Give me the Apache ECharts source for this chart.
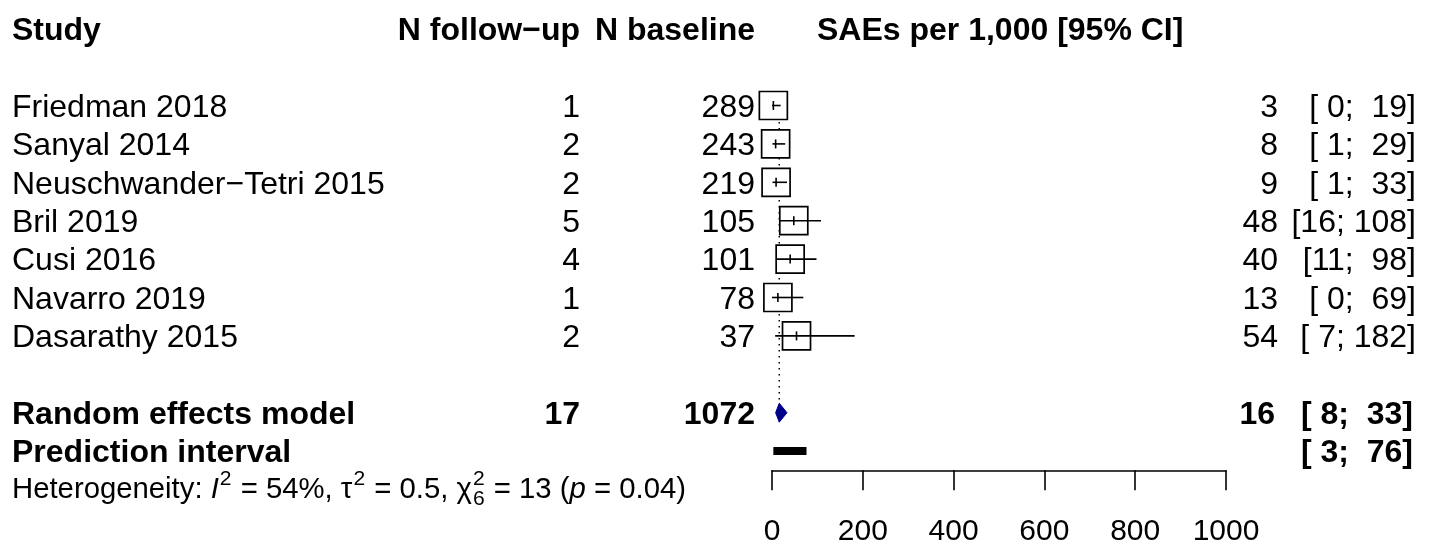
<!DOCTYPE html>
<html><head><meta charset="utf-8">
<script src="https://cdn.jsdelivr.net/npm/echarts@6/dist/echarts.min.js"></script>
<style>html,body{margin:0;padding:0;background:#fff}#c{width:1433px;height:544px}</style>
</head><body><div id="c"></div>
<script>
// ---------- data ----------
const headers = ['Study', 'N follow\u2212up', 'N baseline', 'SAEs per 1,000 [95% CI]'];
const studies = ['Friedman 2018', 'Sanyal 2014', 'Neuschwander\u2212Tetri 2015', 'Bril 2019', 'Cusi 2016', 'Navarro 2019', 'Dasarathy 2015'];
const nFollowUp = [1, 2, 2, 5, 4, 1, 2];
const nBaseline = [289, 243, 219, 105, 101, 78, 37];
const estimate = [3, 8, 9, 48, 40, 13, 54];
const ciLower = [0, 1, 1, 16, 11, 0, 7];
const ciUpper = [19, 29, 33, 108, 98, 69, 182];
const pooledLabel = ['Random effects model'];
const pooledTotals = [17, 1072];          // N follow-up, N baseline
const pooledCI = [16, 8, 33];             // estimate, lower, upper
const predictionLabel = ['Prediction interval'];
const predictionCI = [3, 76];             // lower, upper
const hetValues = ['54%', '0.5', '6', '13', '0.04']; // I2, tau2, df, chi2, p
const xTicks = [0, 200, 400, 600, 800, 1000];

// ---------- layout ----------
const FF = '"Liberation Sans", Arial, Helvetica, sans-serif';
const FS = 32, FS_HET = 29.3, FS_AXIS = 30;
const ROW_TOP = 28.7, ROW_H = 38.4, TXT_DY = 2.5;
const COL = { study: 12, follow: 580, base: 755, est: 1278, ci: 1416, header4: 817 };
const pooledRow = 8, predRow = 9, hetRow = 9.95, headerRow = -2;

function pad(v, w) { let s = String(v); while (s.length < w) s = ' ' + s; return s; }
function ciText(l, u) { return '[' + pad(l, 2) + '; ' + pad(u, 3) + ']'; }

function txt(x, y, s, opt) {
  opt = opt || {};
  const align = opt.align || 'left';
  return {
    type: 'text', x: x, y: y + TXT_DY,
    style: {
      text: s, fill: '#000',
      fontSize: opt.size || FS, fontFamily: FF,
      fontWeight: opt.bold ? 'bold' : 'normal',
      fontStyle: opt.italic ? 'italic' : 'normal',
      align: align, verticalAlign: 'middle',
      textAlign: align, textVerticalAlign: 'middle'
    }
  };
}

const mctx = document.createElement('canvas').getContext('2d');
function measure(s, size, italic) {
  mctx.font = (italic ? 'italic ' : '') + size + 'px ' + FF;
  return mctx.measureText(s).width;
}

const chart = echarts.init(document.getElementById('c'), null, { renderer: 'canvas' });

const tableGrid = { left: 0, width: 1433, top: ROW_TOP, height: ROW_H * 13, outerBoundsMode: 'none', containLabel: false };
const plotGrid = { left: 772, width: 454, top: ROW_TOP, height: ROW_H * 11.5, outerBoundsMode: 'none', containLabel: false };

const option = {
  animation: false,
  backgroundColor: '#fff',
  grid: [tableGrid, plotGrid],
  xAxis: [
    { gridIndex: 0, type: 'value', min: 0, max: 1433, show: false },
    {
      gridIndex: 1, type: 'value', min: xTicks[0], max: xTicks[xTicks.length - 1],
      interval: xTicks[1] - xTicks[0], position: 'bottom',
      axisLine: { show: true, onZero: false, lineStyle: { color: '#000', width: 1.6 } },
      axisTick: { show: true, length: 20, lineStyle: { color: '#000', width: 1.6 } },
      axisLabel: { show: true, color: '#000', fontSize: FS_AXIS, fontFamily: FF, margin: 46,
        formatter: function (v) { return String(v); } },
      splitLine: { show: false }
    }
  ],
  yAxis: [
    { gridIndex: 0, type: 'value', min: -2, max: 11, inverse: true, show: false },
    { gridIndex: 1, type: 'value', min: -2, max: 9.5, inverse: true, show: false }
  ],
  series: [
    // header row
    {
      type: 'custom', xAxisIndex: 0, yAxisIndex: 0, clip: false, z: 5,
      data: [[0, headerRow]],
      renderItem: function (p, api) {
        const y = api.coord([0, api.value(1)])[1];
        return { type: 'group', children: [
          txt(COL.study, y, headers[0], { bold: true }),
          txt(COL.follow, y, headers[1], { bold: true, align: 'right' }),
          txt(COL.base, y, headers[2], { bold: true, align: 'right' }),
          txt(COL.header4, y, headers[3], { bold: true })
        ] };
      }
    },
    // study rows text
    {
      type: 'custom', xAxisIndex: 0, yAxisIndex: 0, clip: false, z: 5,
      data: studies.map(function (s, i) { return [0, i]; }),
      renderItem: function (p, api) {
        const i = p.dataIndex;
        const y = api.coord([0, api.value(1)])[1];
        return { type: 'group', children: [
          txt(COL.study, y, studies[i]),
          txt(COL.follow, y, String(nFollowUp[i]), { align: 'right' }),
          txt(COL.base, y, String(nBaseline[i]), { align: 'right' }),
          txt(COL.est, y, String(estimate[i]), { align: 'right' }),
          txt(COL.ci, y, ciText(ciLower[i], ciUpper[i]), { align: 'right' })
        ] };
      }
    },
    // pooled + prediction text
    {
      type: 'custom', xAxisIndex: 0, yAxisIndex: 0, clip: false, z: 5,
      data: [[0, pooledRow], [0, predRow]],
      renderItem: function (p, api) {
        const y = api.coord([0, api.value(1)])[1];
        if (p.dataIndex === 0) {
          return { type: 'group', children: [
            txt(COL.study, y, pooledLabel[0], { bold: true }),
            txt(COL.follow, y, String(pooledTotals[0]), { bold: true, align: 'right' }),
            txt(COL.base, y, String(pooledTotals[1]), { bold: true, align: 'right' }),
            txt(COL.est - 3, y, String(pooledCI[0]), { bold: true, align: 'right' }),
            txt(COL.ci - 3, y, ciText(pooledCI[1], pooledCI[2]), { bold: true, align: 'right' })
          ] };
        }
        return { type: 'group', children: [
          txt(COL.study, y, predictionLabel[0], { bold: true }),
          txt(COL.ci - 3, y, ciText(predictionCI[0], predictionCI[1]), { bold: true, align: 'right' })
        ] };
      }
    },
    // heterogeneity line
    {
      type: 'custom', xAxisIndex: 0, yAxisIndex: 0, clip: false, z: 5,
      data: [[0, hetRow]],
      renderItem: function (p, api) {
        const y = api.coord([0, api.value(1)])[1];
        const sup = FS_HET * 0.72, supDy = -11, subDy = 9;
        const parts = [
          { t: 'Heterogeneity: ' },
          { t: 'I', it: true },
          { t: '2', sup: true },
          { t: ' = ' + hetValues[0] + ', ' },
          { t: '\u03C4' },
          { t: '2', sup: true },
          { t: ' = ' + hetValues[1] + ', ' },
          { t: '\u03C7' },
          { t: '2', sup: true, sub2: hetValues[2] },
          { t: ' = ' + hetValues[3] + ' (' },
          { t: 'p', it: true },
          { t: ' = ' + hetValues[4] + ')' }
        ];
        let x = COL.study;
        const kids = [];
        parts.forEach(function (pt) {
          if (pt.sup) {
            kids.push(txt(x + 1, y + supDy, pt.t, { size: sup }));
            let w = measure(pt.t, sup);
            if (pt.sub2) {
              kids.push(txt(x + 1, y + subDy, pt.sub2, { size: sup }));
              w = Math.max(w, measure(pt.sub2, sup));
            }
            x += w + 2;
          } else {
            kids.push(txt(x, y, pt.t, { size: FS_HET, italic: pt.it }));
            x += measure(pt.t, FS_HET, pt.it);
          }
        });
        return { type: 'group', children: kids };
      }
    },
    // dotted reference line at pooled estimate
    {
      type: 'line', xAxisIndex: 1, yAxisIndex: 1, z: 1, symbol: 'none', silent: true,
      data: [[pooledCI[0], -0.35], [pooledCI[0], pooledRow - 0.27]],
      lineStyle: { color: '#000', width: 1.5, type: [1.5, 4.5] }
    },
    // study squares and CIs
    {
      type: 'custom', xAxisIndex: 1, yAxisIndex: 1, z: 3, clip: false,
      data: estimate.map(function (e, i) { return [e, i, ciLower[i], ciUpper[i]]; }),
      renderItem: function (p, api) {
        const row = api.value(1);
        const c = api.coord([api.value(0), row]);
        const lo = api.coord([api.value(2), row]);
        const hi = api.coord([api.value(3), row]);
        const s = 28;
        return { type: 'group', children: [
          { type: 'rect', shape: { x: c[0] - s / 2, y: c[1] - s / 2, width: s, height: s },
            style: { fill: '#fff', stroke: '#000', lineWidth: 1.7 } },
          { type: 'line', shape: { x1: lo[0], y1: lo[1], x2: hi[0], y2: hi[1] },
            style: { stroke: '#000', lineWidth: 1.6 } },
          { type: 'line', shape: { x1: c[0], y1: c[1] - 4.5, x2: c[0], y2: c[1] + 4.5 },
            style: { stroke: '#000', lineWidth: 1.6 } }
        ] };
      }
    },
    // pooled diamond
    {
      type: 'custom', xAxisIndex: 1, yAxisIndex: 1, z: 3, clip: false,
      data: [[pooledCI[0], pooledRow, pooledCI[1], pooledCI[2]]],
      renderItem: function (p, api) {
        const row = api.value(1);
        const c = api.coord([api.value(0), row]);
        const lo = api.coord([api.value(2), row]);
        const hi = api.coord([api.value(3), row]);
        const h = 9.5;
        return { type: 'polygon',
          shape: { points: [[lo[0], c[1]], [c[0], c[1] - h], [hi[0], c[1]], [c[0], c[1] + h]] },
          style: { fill: '#00008B', stroke: '#00008B', lineWidth: 1 } };
      }
    },
    // prediction interval bar
    {
      type: 'custom', xAxisIndex: 1, yAxisIndex: 1, z: 3, clip: false,
      data: [[predictionCI[0], predRow, predictionCI[1]]],
      renderItem: function (p, api) {
        const row = api.value(1);
        const lo = api.coord([api.value(0), row]);
        const hi = api.coord([api.value(2), row]);
        const h = 8;
        return { type: 'rect', shape: { x: lo[0], y: lo[1] - h / 2, width: hi[0] - lo[0], height: h },
          style: { fill: '#000' } };
      }
    }
  ]
};
chart.setOption(option);
</script></body></html>
